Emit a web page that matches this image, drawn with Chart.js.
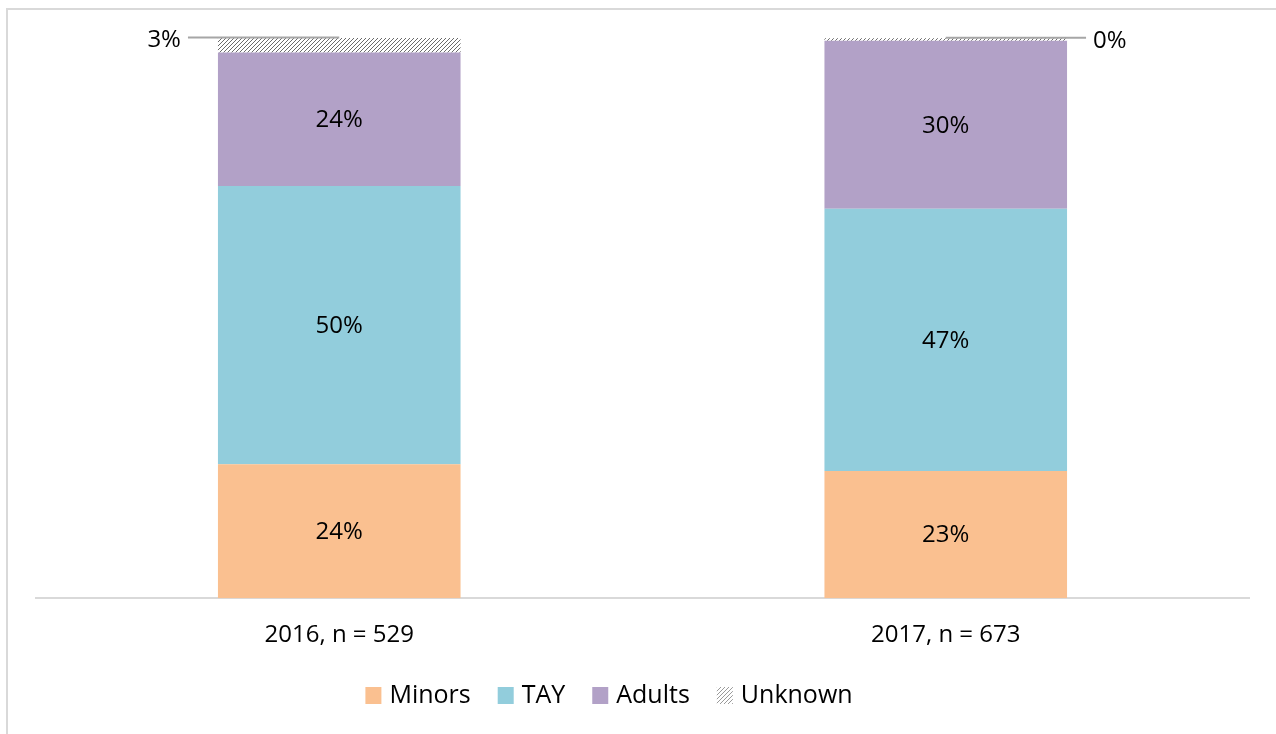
<!DOCTYPE html>
<html>
<head>
<meta charset="utf-8">
<script src="https://cdn.jsdelivr.net/npm/chart.js@4.4.1/dist/chart.umd.min.js"></script>
<style>
html,body{margin:0;padding:0;background:#fff;}
#wrap{position:absolute;left:0;top:0;width:1276px;height:734px;}
</style>
</head>
<body>
<div id="wrap"><canvas id="c" width="1276" height="734"></canvas></div>
<script>
// ---- data ----
const categories = ["2016, n = 529", "2017, n = 673"];
const seriesNames = ["Minors", "TAY", "Adults", "Unknown"];
const minors = [23.9, 22.7];
const tay = [49.7, 46.8];
const adults = [23.8, 30.0];
const unknown = [2.6, 0.45];

const FONT = "'Open Sans', 'Noto Sans', sans-serif";

function makeHatch(lineColor, step) {
  const c = document.createElement('canvas');
  c.width = step; c.height = step;
  const x = c.getContext('2d');
  x.fillStyle = '#ffffff';
  x.fillRect(0, 0, step, step);
  x.strokeStyle = lineColor;
  x.lineWidth = 1;
  x.beginPath();
  x.moveTo(-1, step + 1); x.lineTo(step + 1, -1);
  x.moveTo(-1, 1); x.lineTo(1, -1);
  x.moveTo(step - 1, step + 1); x.lineTo(step + 1, step - 1);
  x.stroke();
  return x.createPattern(c, 'repeat');
}
const hatch = makeHatch('#6a6a6a', 4);
const hatchLegend = makeHatch('#9a9a9a', 4);

const colors = ['#FAC090', '#92CDDC', '#B2A1C7', hatch];
const legendColors = ['#FAC090', '#92CDDC', '#B2A1C7', hatchLegend];

const frame = {
  id: 'frame',
  beforeDraw(chart) {
    const ctx = chart.ctx;
    ctx.save();
    ctx.strokeStyle = '#d9d9d9';
    ctx.lineWidth = 2;
    ctx.strokeRect(7, 9, 3000, 3000);
    ctx.restore();
  }
};

const labelsPlugin = {
  id: 'valueLabels',
  afterDatasetsDraw(chart) {
    const ctx = chart.ctx;
    ctx.save();
    ctx.font = "24px " + FONT;
    ctx.fillStyle = '#000';
    chart.data.datasets.forEach((ds, di) => {
      const meta = chart.getDatasetMeta(di);
      meta.data.forEach((el, i) => {
        const txt = Math.round(ds.data[i]) + '%';
        if (di < 3) {
          ctx.textAlign = 'center';
          ctx.textBaseline = 'middle';
          ctx.fillText(txt, el.x, (el.y + el.base) / 2 + 1);
        } else {
          const half = el.width / 2;
          const y = el.y - 0.5;
          ctx.strokeStyle = '#a6a6a6';
          ctx.lineWidth = 2;
          ctx.beginPath();
          ctx.textBaseline = 'middle';
          if (i === 0) {
            const x2 = el.x - half - 30;
            ctx.moveTo(el.x, y); ctx.lineTo(x2, y);
            ctx.stroke();
            ctx.textAlign = 'right';
            ctx.fillText(txt, x2 - 7, y + 3);
          } else {
            const x2 = el.x + half + 19;
            ctx.moveTo(el.x, y); ctx.lineTo(x2, y);
            ctx.stroke();
            ctx.textAlign = 'left';
            ctx.fillText(txt, x2 + 7, y + 3);
          }
        }
      });
    });
    ctx.restore();
  }
};

const legendPlugin = {
  id: 'customLegend',
  afterDraw(chart) {
    const ctx = chart.ctx;
    ctx.save();
    ctx.font = "25px " + FONT;
    const box = 16, gapText = 8, gapItem = 27;
    let total = 0;
    const widths = seriesNames.map(n => ctx.measureText(n).width);
    widths.forEach((w, i) => { total += box + gapText + w + (i < widths.length - 1 ? gapItem : 0); });
    const cx = 609, cy = 695;
    let x = cx - total / 2;
    ctx.textBaseline = 'middle';
    ctx.textAlign = 'left';
    seriesNames.forEach((n, i) => {
      ctx.fillStyle = legendColors[i];
      ctx.fillRect(x, cy - 8, box, 17);
      ctx.fillStyle = '#000';
      ctx.fillText(n, x + box + gapText, cy + 1);
      x += box + gapText + widths[i] + gapItem;
    });
    ctx.restore();
  }
};

new Chart(document.getElementById('c'), {
  type: 'bar',
  data: {
    labels: categories,
    datasets: [
      { label: seriesNames[0], data: minors, backgroundColor: colors[0] },
      { label: seriesNames[1], data: tay, backgroundColor: colors[1] },
      { label: seriesNames[2], data: adults, backgroundColor: colors[2] },
      { label: seriesNames[3], data: unknown, backgroundColor: colors[3] }
    ]
  },
  options: {
    responsive: false,
    animation: false,
    devicePixelRatio: 1,
    datasets: { bar: { categoryPercentage: 0.8, barPercentage: 0.5, borderWidth: 0 } },
    layout: { padding: { left: 36, right: 27, top: 38, bottom: 61 } },
    plugins: { legend: { display: false }, tooltip: { enabled: false } },
    scales: {
      x: {
        stacked: true,
        grid: { display: false, drawTicks: false },
        border: { display: true, color: '#d9d9d9', width: 2 },
        ticks: { color: '#000', font: { family: FONT, size: 24 }, padding: 23 }
      },
      y: {
        stacked: true,
        display: false,
        min: 0,
        max: 100
      }
    }
  },
  plugins: [frame, labelsPlugin, legendPlugin]
});
</script>
</body>
</html>
